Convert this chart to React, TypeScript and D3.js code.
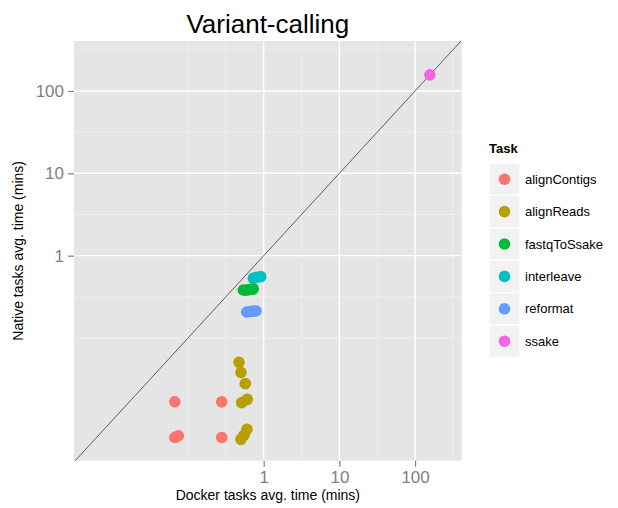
import React, { useEffect, useRef } from 'react';
import * as d3 from 'd3';

// task categories and ggplot default hue colours
const tasks = ['alignContigs', 'alignReads', 'fastqToSsake', 'interleave', 'reformat', 'ssake'];
const taskColors = ['#F8766D', '#B79F00', '#00BA38', '#00BFC4', '#619CFF', '#F564E3'];

// avg. times in minutes, docker vs native
const alignContigsDocker = [0.067, 0.0745, 0.279, 0.067, 0.07, 0.279];
const alignContigsNative = [0.0168, 0.0065, 0.0168, 0.0062, 0.0063, 0.0062];
const alignReadsDocker = [0.472, 0.501, 0.571, 0.512, 0.607, 0.601, 0.55, 0.501];
const alignReadsNative = [0.0507, 0.0383, 0.0279, 0.0164, 0.018, 0.00778, 0.0066, 0.00588];
const fastqToSsakeDocker = [0.537, 0.58, 0.62, 0.68, 0.729];
const fastqToSsakeNative = [0.383, 0.38, 0.385, 0.39, 0.395];
const interleaveDocker = [0.729, 0.8, 0.912];
const interleaveNative = [0.531, 0.545, 0.556];
const reformatDocker = [0.596, 0.65, 0.72, 0.791];
const reformatNative = [0.207, 0.21, 0.212, 0.213];
const ssakeDocker = [157];
const ssakeNative = [157];

const majorTicks = [1, 10, 100];
const minorGrid = [0.1, Math.sqrt(0.1), Math.sqrt(10), Math.sqrt(1000), Math.sqrt(100000)];

const panel = { left: 74, right: 461.7, top: 41, bottom: 460.7 };
const font = '"Liberation Sans", Arial, sans-serif';

export default function App() {
  const svgRef = useRef<SVGSVGElement | null>(null);

  useEffect(() => {
    const svg = d3.select(svgRef.current);
    svg.selectAll('*').remove();

    const x = d3.scaleLog().domain([Math.pow(10, -2.506), Math.pow(10, 2.616)]).range([panel.left, panel.right]);
    const y = d3.scaleLog().domain([Math.pow(10, -2.49), Math.pow(10, 2.607)]).range([panel.bottom, panel.top]);

    const series = [
      [alignContigsDocker, alignContigsNative],
      [alignReadsDocker, alignReadsNative],
      [fastqToSsakeDocker, fastqToSsakeNative],
      [interleaveDocker, interleaveNative],
      [reformatDocker, reformatNative],
      [ssakeDocker, ssakeNative],
    ];
    const points = series.flatMap(([dk, nt], i) => dk.map((d, j) => ({ task: i, docker: d, native: nt[j] })));

    svg.append('defs').append('clipPath').attr('id', 'clip')
      .append('rect')
      .attr('x', panel.left).attr('y', panel.top)
      .attr('width', panel.right - panel.left).attr('height', panel.bottom - panel.top);

    svg.append('rect')
      .attr('x', panel.left).attr('y', panel.top)
      .attr('width', panel.right - panel.left).attr('height', panel.bottom - panel.top)
      .attr('fill', '#E5E5E5');

    const grid = svg.append('g');
    minorGrid.forEach(v => {
      grid.append('line').attr('x1', x(v)).attr('x2', x(v)).attr('y1', panel.top).attr('y2', panel.bottom)
        .attr('stroke', '#F2F2F2').attr('stroke-width', 0.7);
      grid.append('line').attr('y1', y(v)).attr('y2', y(v)).attr('x1', panel.left).attr('x2', panel.right)
        .attr('stroke', '#F2F2F2').attr('stroke-width', 0.7);
    });
    majorTicks.forEach(v => {
      grid.append('line').attr('x1', x(v)).attr('x2', x(v)).attr('y1', panel.top).attr('y2', panel.bottom)
        .attr('stroke', 'white').attr('stroke-width', 1.4);
      grid.append('line').attr('y1', y(v)).attr('y2', y(v)).attr('x1', panel.left).attr('x2', panel.right)
        .attr('stroke', 'white').attr('stroke-width', 1.4);
    });

    // y = x reference line
    svg.append('line')
      .attr('clip-path', 'url(#clip)')
      .attr('x1', x(0.002)).attr('y1', y(0.002))
      .attr('x2', x(600)).attr('y2', y(600))
      .attr('stroke', 'black').attr('stroke-width', 0.6);

    svg.append('g').selectAll('circle').data(points).enter().append('circle')
      .attr('cx', d => x(d.docker))
      .attr('cy', d => y(d.native))
      .attr('r', 5.8)
      .attr('fill', d => taskColors[d.task]);

    // axes
    const xAxis = svg.append('g').attr('transform', `translate(0,${panel.bottom})`)
      .call(d3.axisBottom(x).tickValues(majorTicks).tickFormat(d3.format('d')).tickSize(6).tickPadding(4));
    const yAxis = svg.append('g').attr('transform', `translate(${panel.left},0)`)
      .call(d3.axisLeft(y).tickValues(majorTicks).tickFormat(d3.format('d')).tickSize(6).tickPadding(4));
    [xAxis, yAxis].forEach(a => {
      a.select('.domain').remove();
      a.selectAll('line').attr('stroke', '#7F7F7F').attr('stroke-width', 1.2);
      a.selectAll('text').attr('fill', '#7F7F7F').style('font-family', font).style('font-size', '17px');
    });

    svg.append('text').attr('x', (panel.left + panel.right) / 2).attr('y', 33)
      .attr('text-anchor', 'middle').style('font-family', font).style('font-size', '26px')
      .text('Variant-calling');
    svg.append('text').attr('x', (panel.left + panel.right) / 2).attr('y', 500)
      .attr('text-anchor', 'middle').style('font-family', font).style('font-size', '14px')
      .text('Docker tasks avg. time (mins)');
    svg.append('text')
      .attr('transform', `translate(23,${(panel.top + panel.bottom) / 2}) rotate(-90)`)
      .attr('text-anchor', 'middle').style('font-family', font).style('font-size', '14px')
      .text('Native tasks avg. time (mins)');

    // legend
    const legend = svg.append('g').attr('transform', 'translate(489,163)');
    legend.append('text').attr('x', 0).attr('y', -10)
      .style('font-family', font).style('font-size', '13px').style('font-weight', 'bold')
      .text('Task');
    const keyH = 32.4;
    tasks.forEach((t, i) => {
      const g = legend.append('g').attr('transform', `translate(0,${i * keyH})`);
      g.append('rect').attr('x', 0).attr('y', 0).attr('width', 31).attr('height', keyH)
        .attr('fill', '#F2F2F2').attr('stroke', 'white').attr('stroke-width', 1.2);
      g.append('circle').attr('cx', 15.5).attr('cy', keyH / 2).attr('r', 5.8).attr('fill', taskColors[i]);
      g.append('text').attr('x', 36).attr('y', keyH / 2 + 4.6)
        .style('font-family', font).style('font-size', '13px').text(t);
    });
  }, []);

  return (
    <svg ref={svgRef} width={618} height={508}
      style={{ position: 'absolute', left: 0, top: 0, background: 'white' }} />
  );
}
